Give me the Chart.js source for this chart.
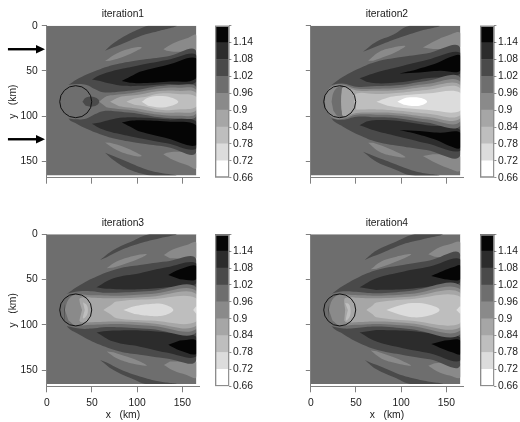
<!DOCTYPE html>
<html lang="en">
<head>
<meta charset="UTF-8">
<title>iterations</title>
<script src="https://cdn.jsdelivr.net/npm/chart.js"></script>
<style>
    body { margin: 0; background: #fff; width: 520px; height: 422px; overflow: hidden; position: relative; }
    canvas { position: absolute; filter: blur(0.3px); }
</style>
</head>
<body>
<script>
// colour bar
const levelEdges = [0.66, 0.72, 0.78, 0.84, 0.9, 0.96, 1.02, 1.08, 1.14, 1.2];
const levelLabels = ['0.66', '0.72', '0.78', '0.84', '0.9', '0.96', '1.02', '1.08', '1.14', ''];
const levelColors = ['#ffffff', '#dcdcdc', '#bebebe', '#a6a6a6', '#8a8a8a', '#6e6e6e', '#4a4a4a', '#2c2c2c', '#050505'];
const axisTicks = [0, 50, 100, 150];
const L66 = 0, L72 = 1, L78 = 2, L84 = 3, L90 = 4, L96 = 5, L102 = 6, L108 = 7, L114 = 8;

const fullField = [[0, 0], [165.5, 0], [165.5, 165.5], [0, 165.5]];
const rightStrip = [[165.5, 0], [168.4, 0], [168.4, 167.4], [165.5, 167.4]];
const bottomStrip = [[0, 165.5], [168.4, 165.5], [168.4, 167.4], [0, 167.4]];

// source circle (km) and incoming arrows (y in km)
const circleCentres = [[32, 84], [32, 84], [32, 83.6], [32, 83.6]];
const arrowRows = [26, 125.5];

// contour outlines, km, painted in this order
const iter1 = [
    [L96, fullField],
    [L102, [[64.5,27.6],[73.7,19.5],[88.4,10.3],[106.8,1.8],[112.4,0],[143.6,0],[125,5.5],[107,10.3],[88.4,17.9],[73.7,23.9]]],
    [L102, [[64.5,140.4],[73.7,148.5],[88.4,157.7],[106.8,164],[115,165.5],[143.6,165.5],[125,162.5],[107,157.7],[88.4,150.1],[73.7,144.1]]],
    [L90, [[64.5,39],[77.3,30.6],[95.8,24.3],[105,24],[99.4,27.6],[84.7,34.3],[70,38.7]]],
    [L90, [[64.5,129],[77.3,137.4],[95.8,143.7],[105,144],[99.4,140.4],[84.7,133.7],[70,129.3]]],
    [L90, [[129,26],[140,19.5],[155,14],[165.5,10.3],[165.5,27.6],[155,28.4],[140,28.7],[132.6,27.6]]],
    [L90, [[129,142],[140,148.5],[155,154],[165.5,157.7],[165.5,140.4],[155,139.6],[140,139.3],[132.6,140.4]]],
    [L102, [[24,65.6],[33,59.6],[44,54],[59,48],[77,42.7],[103,38],[133,34],[165.5,28.7],[165.5,139.3],[133,134],[103,130],[77,125.3],[59,120],[44,114],[33,108.4],[24,102.4],[21,84]]],
    [L108, [[50,59.5],[59,54.5],[77,49],[96,45],[133,38],[165.5,32.4],[165.5,62],[133,64.5],[103,66.5],[85,66.5],[70,64],[59,61]]],
    [L108, [[50,108.5],[59,113.5],[77,119],[96,123],[133,130],[165.5,135.6],[165.5,106],[133,103.5],[103,101.5],[85,101.5],[70,104],[59,107]]],
    [L114, [[83,61],[96,54.5],[103,51],[133,43.5],[165.5,36],[165.5,58],[133,62],[103,63.5],[92,63]]],
    [L114, [[83,107],[96,113.5],[103,117],[133,124.5],[165.5,132],[165.5,110],[133,106],[103,104.5],[92,105]]],
    [L96, [[20,66],[33,64.5],[44,65.5],[53,70],[62,73.5],[75,73.5],[90,72],[103,70.5],[125,66.7],[145,65.5],[165.5,68],[165.5,100],[145,102.5],[125,101.3],[103,97.5],[90,96],[75,94.5],[62,94.5],[53,98],[44,102.5],[33,103.5],[20,102]]],
    [L102, [[39.4,84],[43,79.5],[49,78.5],[55,80],[58,84],[55,88],[49,89.5],[43,88.5]]],
    [L90, [[58,84],[66,78],[75,76.5],[90,75],[103,73],[125,69.5],[145,68.5],[165.5,71],[165.5,97],[145,99.5],[125,98.5],[103,95],[90,93],[75,91.5],[66,90]]],
    [L84, [[70,84],[80,79],[90,77.5],[103,76],[125,72.3],[145,72],[165.5,74.5],[165.5,93.5],[145,96],[125,95.7],[103,92],[90,90.5],[80,89]]],
    [L78, [[88,84],[97,80.5],[110,78.5],[125,75],[145,75.5],[165.5,78.5],[165.5,89.5],[145,92.5],[125,93],[110,89.5],[97,87.5]]],
    [L72, [[105,84],[112,79.5],[125,77.7],[138,79.5],[145.5,84],[138,88.5],[125,90.4],[112,88.5]]]
];

const iter2 = [
    [L96, fullField],
    [L102, [[57.8,28.7],[72.6,17.7],[91,10],[109.4,0],[142.5,0],[120,6],[100,12.5],[80,20],[65,26]]],
    [L102, [[57.8,139.3],[72.6,150.3],[91,158],[112,165.5],[142.5,165.5],[120,162],[100,155.5],[80,148],[65,142]]],
    [L90, [[63.4,38.7],[76,28.7],[91,24],[104.6,22.5],[98,27],[83.6,33.5],[69,38.7]]],
    [L90, [[63.4,129.3],[76,139.3],[91,144],[104.6,145.5],[98,141],[83.6,134.5],[69,129.3]]],
    [L90, [[124,24],[139,16],[150,11.4],[165.5,7.7],[165.5,24],[150,25.4],[135,25.8]]],
    [L90, [[124,144],[139,152],[150,156.6],[165.5,160.3],[165.5,144],[150,142.6],[135,142.2]]],
    [L102, [[22.8,65.6],[35.7,56.4],[54,47],[72.6,39.8],[98,35],[128,30.6],[165.5,25],[165.5,143],[128,137.4],[98,133],[72.6,128.2],[54,121],[35.7,111.6],[22.8,102.4],[19,84]]],
    [L108, [[54,58],[72.6,51.6],[98,45.3],[128,38],[165.5,29.8],[165.5,52.7],[128,58],[98,62.6],[72.6,63.7],[61.5,62]]],
    [L108, [[54,110],[72.6,116.4],[98,122.7],[128,130],[165.5,138.2],[165.5,115.3],[128,110],[98,105.4],[72.6,104.3],[61.5,106]]],
    [L114, [[98,52.7],[117,48.3],[139,41.6],[153.6,35],[165.5,33],[165.5,49.7],[142.5,49.7],[120,51.6]]],
    [L114, [[98,115.3],[117,119.7],[139,126.4],[153.6,133],[165.5,135],[165.5,118.3],[142.5,118.3],[120,116.4]]],
    [L96, [[20,66],[35,64],[50.5,67.5],[72.6,66.7],[98,65.5],[128,61],[165.5,57.5],[165.5,110.5],[128,107],[98,102.5],[72.6,101.3],[50.5,100.5],[35,104],[20,102]]],
    [L90, [[15.5,84],[17,74],[25,66],[35,65],[50.5,69.5],[72.6,69.6],[98,68.5],[128,64.5],[165.5,62],[165.5,106],[128,103.5],[98,99.5],[72.6,98.4],[50.5,98.5],[35,103],[25,102],[17,94]]],
    [L96, [[23,84],[25,74],[30,68],[36,67],[34,76],[33.5,84],[34,92],[36,101],[30,100],[25,94]]],
    [L84, [[33.5,84],[34,75],[36,68],[50.5,71.5],[72.6,72],[98,71],[128,67.4],[165.5,65.6],[165.5,102.4],[128,100.6],[98,97],[72.6,96],[50.5,96.5],[36,100],[34,93]]],
    [L78, [[48,84],[50.5,75],[72.6,75.5],[98,74],[128,71],[165.5,69],[165.5,99],[128,97],[98,94],[72.6,92.5],[50.5,93]]],
    [L72, [[72.6,84],[85,79.5],[98,77.5],[128,75],[165.5,74],[165.5,94],[128,93],[98,90.5],[85,88.5]]],
    [L66, [[95.8,84],[103,80.5],[112,79.2],[122,80],[128.6,84],[122,88],[112,88.8],[103,87.5]]]
];

const iter3 = [
    [L96, fullField],
    [L102, [[59,28.4],[73.7,17.3],[95.8,7],[114,0],[143.6,0],[125,4.4],[103,10],[81,18],[66.3,25.4]]],
    [L102, [[59,138.8],[73.7,149.9],[95.8,160.2],[110,165.5],[143.6,165.5],[125,162.8],[103,157.2],[81,149.2],[66.3,141.8]]],
    [L90, [[66.3,37.6],[77.3,30.2],[95.8,24],[110.5,22],[103,26.5],[88.4,32],[73.7,36.8]]],
    [L90, [[66.3,129.6],[77.3,137],[95.8,143.2],[110.5,145.2],[103,140.7],[88.4,135.2],[73.7,130.4]]],
    [L90, [[129.6,22.8],[140,16.6],[154.7,11.8],[165.5,8.8],[165.5,26.5],[151,27],[136.3,26.5]]],
    [L90, [[129.6,144.4],[140,150.6],[154.7,155.4],[165.5,158.4],[165.5,140.7],[151,140.2],[136.3,140.7]]],
    [L102, [[22,66],[36.8,56],[59,45],[81,37.6],[103,34],[132.6,30],[165.5,28.4],[165.5,138.8],[132.6,137.2],[103,133.2],[81,129.6],[59,122.2],[36.8,111.2],[22,101.2],[19,83.6]]],
    [L108, [[55,58.6],[73.7,48.6],[103,43],[132.6,36.5],[165.5,32],[165.5,54],[132.6,58.6],[103,60.8],[77.3,60.8],[62.6,60]]],
    [L108, [[55,108.6],[73.7,118.6],[103,124.2],[132.6,130.7],[165.5,135.2],[165.5,113.2],[132.6,108.6],[103,106.4],[77.3,106.4],[62.6,107.2]]],
    [L114, [[134.4,45],[147.3,38.7],[165.5,35],[165.5,49.7],[147.3,49.7]]],
    [L114, [[134.4,122.2],[147.3,128.5],[165.5,132.2],[165.5,117.5],[147.3,117.5]]],
    [L96, [[20,66],[36,63],[50,63],[62,64.5],[77.3,64.5],[114.9,62.6],[165.5,58.6],[165.5,108.6],[114.9,104.6],[77.3,102.7],[62,102.7],[50,104.2],[36,104.2],[20,101.2]]],
    [L90, [[20,83.6],[24,72],[32,66.5],[45,67],[60,67.5],[77.3,68],[114.9,66],[165.5,62.6],[165.5,104.6],[114.9,101.2],[77.3,99.2],[60,99.7],[45,100.2],[32,100.7],[24,95.2]]],
    [L84, [[39,83.6],[36,72],[38,70],[50,70],[77.3,70.7],[114.9,69],[165.5,66],[165.5,101.2],[114.9,98.2],[77.3,96.5],[50,97.2],[38,97.2],[36,95.2]]],
    [L78, [[62.6,83.6],[70,79],[77.3,74.4],[114.9,71.8],[165.5,70.7],[165.5,96.5],[114.9,95.4],[77.3,92.8],[70,88.2]]],
    [L78, [[40,75],[44,78],[45.5,83.6],[44,90],[40,93],[42,83.6]]],
    [L72, [[84.7,83.6],[97,79.5],[114.9,77],[130,77.5],[140,83.6],[130,89.5],[114.9,90.2],[97,88]]],
    [L72, [[162,83.6],[165.5,80],[165.5,88]]]
];

const iter4 = [
    [L96, fullField],
    [L102, [[59.7,28.4],[72.6,18],[94.7,8],[115,0],[146,0],[124,5.5],[102,11],[80,20],[65,25.8]]],
    [L102, [[59.7,138.8],[72.6,149.2],[94.7,159.2],[110,165.5],[146,165.5],[124,161.7],[102,156.2],[80,147.2],[65,141.4]]],
    [L90, [[66.3,38.7],[78,30],[94.7,24.7],[111,22],[102,27],[87,33],[72.6,38]]],
    [L90, [[66.3,128.5],[78,137.2],[94.7,142.5],[111,145.2],[102,140.2],[87,134.2],[72.6,129.2]]],
    [L90, [[130,22],[142.5,14.4],[153.6,11],[165.5,8.8],[165.5,24.7],[150,25.8],[137,24.7]]],
    [L90, [[130,145.2],[142.5,152.8],[153.6,156.2],[165.5,158.4],[165.5,142.5],[150,141.4],[137,142.5]]],
    [L102, [[22.8,66],[35.7,57],[54,46.8],[76.2,38.7],[102,33.9],[131.5,29],[165.5,22.8],[165.5,144.4],[131.5,138.2],[102,133.3],[76.2,128.5],[54,120.4],[35.7,110.2],[22.8,101.2],[19,83.6]]],
    [L108, [[54,58.6],[72.6,48.6],[102,41.3],[131.5,35.7],[165.5,27.6],[165.5,53],[131.5,57.8],[102,60.8],[72.6,61.5]]],
    [L108, [[54,108.6],[72.6,118.6],[102,125.9],[131.5,131.5],[165.5,139.6],[165.5,114.2],[131.5,109.4],[102,106.4],[72.6,105.7]]],
    [L114, [[133.3,46],[146.2,40.5],[157.3,36.5],[165.5,34.6],[165.5,49.7],[148,49.7]]],
    [L114, [[133.3,121.2],[146.2,126.7],[157.3,130.7],[165.5,132.6],[165.5,117.5],[148,117.5]]],
    [L96, [[20,66],[36,63],[50,63.5],[72.6,65.2],[109,62.6],[165.5,56.7],[165.5,110.5],[109,104.6],[72.6,102],[50,103.7],[36,104.2],[20,101.2]]],
    [L90, [[20,83.6],[24,72],[32,66.5],[45,67],[60,67.5],[72.6,68],[109,66],[165.5,60.8],[165.5,106.4],[109,101.2],[72.6,99.2],[60,99.7],[45,100.2],[32,100.7],[24,95.2]]],
    [L84, [[38,83.6],[37,72],[39,70],[50,70],[72.6,70.7],[109,69],[165.5,64.5],[165.5,102.7],[109,98.2],[72.6,96.5],[50,97.2],[39,97.2],[37,95.2]]],
    [L78, [[61.5,83.6],[68,79],[72.6,75.5],[109,71.8],[165.5,69],[165.5,98.2],[109,95.4],[72.6,91.7],[68,88.2]]],
    [L78, [[38,76],[42,77],[44,83.6],[43,91],[39,95],[41,83.6]]],
    [L72, [[83.6,83.6],[97,79],[112,76],[130,77.5],[142.5,83.6],[130,90],[112,91.7],[97,88.5]]],
    [L72, [[161,83.6],[165.5,79.5],[165.5,88]]]
];

const panels = [
    { name: 'iteration1', contours: iter1, left: 0, top: 0, row: 0, col: 0 },
    { name: 'iteration2', contours: iter2, left: 264, top: 0, row: 0, col: 1 },
    { name: 'iteration3', contours: iter3, left: 0, top: 209, row: 1, col: 0 },
    { name: 'iteration4', contours: iter4, left: 264, top: 209, row: 1, col: 1 }
];

const axisGray = '#808080';
const textColor = '#1a1a1a';
const fontFamily = '"Liberation Sans", Arial, sans-serif';

function addCanvas(left, top, w, h) {
    const c = document.createElement('canvas');
    c.width = w;
    c.height = h;
    c.style.left = left + 'px';
    c.style.top = top + 'px';
    c.style.width = w + 'px';
    c.style.height = h + 'px';
    document.body.appendChild(c);
    return c;
}

function polygonDataset(points, color, order) {
    return {
        data: points.map(p => ({ x: p[0], y: p[1] })),
        showLine: true,
        fill: 'shape',
        backgroundColor: color,
        borderWidth: 0,
        pointRadius: 0,
        tension: 0.4,
        order: order
    };
}

// arrows on the first panel, placed through the scales
const arrowPlugin = {
    id: 'arrows',
    afterDraw(chart) {
        const ctx = chart.ctx;
        const sx = chart.scales.x, sy = chart.scales.y;
        arrowRows.forEach(row => {
            const y = sy.getPixelForValue(row);
            const x0 = sx.getPixelForValue(-43);
            const x1 = sx.getPixelForValue(-2);
            ctx.save();
            ctx.fillStyle = '#000';
            ctx.fillRect(x0, y - 1.2, x1 - x0 - 6, 2.4);
            ctx.beginPath();
            ctx.moveTo(x1, y);
            ctx.lineTo(x1 - 9, y - 4.2);
            ctx.lineTo(x1 - 9, y + 4.2);
            ctx.closePath();
            ctx.fill();
            ctx.restore();
        });
    }
};

function drawPanel(p, i) {
    const isBottom = p.row === 1;
    const isLeft = p.col === 0;
    const canvasH = isBottom ? 213 : 211;
    const canvas = addCanvas(p.left, p.top, 200, canvasH);
    const n = p.contours.length + 3;
    const datasets = p.contours.map((c, k) => polygonDataset(c[1], levelColors[c[0]], n - k));
    datasets[0].tension = 0;
    datasets.push(polygonDataset(rightStrip, '#fff', 3));
    datasets.push(polygonDataset(bottomStrip, '#fff', 2));
    datasets[datasets.length - 1].tension = 0;
    datasets[datasets.length - 2].tension = 0;
    datasets.push({
        data: [{ x: circleCentres[i][0], y: circleCentres[i][1] }],
        pointRadius: 16,
        pointBackgroundColor: 'rgba(0,0,0,0)',
        pointBorderColor: '#111',
        pointBorderWidth: 1,
        order: 1
    });
    new Chart(canvas, {
        type: 'scatter',
        data: { datasets },
        plugins: isLeft && !isBottom ? [arrowPlugin] : [],
        options: {
            responsive: false,
            animation: false,
            layout: { autoPadding: false, padding: { right: 1 } },
            plugins: {
                legend: { display: false },
                tooltip: { enabled: false },
                title: {
                    display: true,
                    text: p.name,
                    fullSize: false,
                    color: textColor,
                    font: { family: fontFamily, size: 10.3, weight: 'normal', lineHeight: 1.2 },
                    padding: isBottom ? { top: 7.6, bottom: 5.34 } : { top: 8.3, bottom: 5.04 }
                }
            },
            scales: {
                x: {
                    type: 'linear',
                    min: 0,
                    max: 168.4,
                    afterBuildTicks: a => { a.ticks = axisTicks.map(v => ({ value: v })); },
                    afterFit: s => { s.height = isBottom ? 35.7 : 33.3; s.paddingRight = 0; },
                    grid: { drawOnChartArea: false, tickLength: 6, color: axisGray, z: 1 },
                    border: { color: axisGray, z: 1 },
                    ticks: {
                        display: isBottom,
                        autoSkip: false,
                        maxRotation: 0,
                        color: textColor,
                        padding: 5,
                        font: { family: fontFamily, size: 10.3 }
                    },
                    title: {
                        display: isBottom,
                        text: 'x   (km)',
                        color: textColor,
                        font: { family: fontFamily, size: 10.3 },
                        padding: { top: 0, bottom: 1 }
                    }
                },
                y: {
                    type: 'linear',
                    reverse: true,
                    min: 0,
                    max: 168,
                    afterBuildTicks: a => { a.ticks = axisTicks.map(v => ({ value: v })); },
                    afterFit: s => { s.width = 46.8; },
                    grid: { drawOnChartArea: false, tickLength: 5, color: axisGray, z: 1 },
                    border: { color: axisGray, z: 1 },
                    ticks: {
                        callback: v => (isLeft ? String(v) : ''),
                        autoSkip: false,
                        color: textColor,
                        padding: 4,
                        font: { family: fontFamily, size: 10.3 }
                    },
                    title: {
                        display: isLeft,
                        text: 'y   (km)',
                        color: textColor,
                        font: { family: fontFamily, size: 10.3 },
                        padding: { top: 7, bottom: 0 }
                    }
                }
            }
        }
    });
}

function drawColorBar(p) {
    const isBottom = p.row === 1;
    const left = p.col === 0 ? 213 : 477.6;
    const canvasH = isBottom ? 213 : 211;
    const canvas = addCanvas(left, p.top, 42, canvasH);
    const padTop = isBottom ? 25.3 : 25.7;
    const padBottom = isBottom ? 35.7 : 33.3;
    const bands = levelColors.map((c, k) => ({
        data: [[levelEdges[k], levelEdges[k + 1]]],
        backgroundColor: c,
        borderWidth: 0,
        barPercentage: 1,
        categoryPercentage: 1,
        grouped: false,
        order: 2
    }));
    // thin frame round the whole bar
    bands.push({
        data: [[levelEdges[0], levelEdges[levelEdges.length - 1]]],
        backgroundColor: 'rgba(0,0,0,0)',
        borderColor: '#8c8c8c',
        borderWidth: 1,
        borderSkipped: false,
        barPercentage: 1,
        categoryPercentage: 1,
        grouped: false,
        order: 1
    });
    new Chart(canvas, {
        type: 'bar',
        data: { labels: [''], datasets: bands },
        options: {
            responsive: false,
            animation: false,
            layout: { autoPadding: false, padding: { left: 2, top: padTop, bottom: padBottom } },
            plugins: { legend: { display: false }, tooltip: { enabled: false } },
            scales: {
                x: { display: false, stacked: false },
                y: {
                    position: 'right',
                    min: levelEdges[0],
                    max: levelEdges[levelEdges.length - 1],
                    afterBuildTicks: a => { a.ticks = levelEdges.map(v => ({ value: v })); },
                    afterFit: s => { s.width = 25.6; },
                    grid: { drawOnChartArea: false, drawTicks: true, tickLength: 2, color: '#8c8c8c' },
                    border: { display: false },
                    ticks: {
                        callback: (v, idx) => levelLabels[idx],
                        autoSkip: false,
                        color: textColor,
                        padding: 1.5,
                        font: { family: fontFamily, size: 10.3 }
                    }
                }
            }
        }
    });
}

panels.forEach((p, i) => {
    drawPanel(p, i);
    drawColorBar(p);
});
</script>
</body>
</html>
